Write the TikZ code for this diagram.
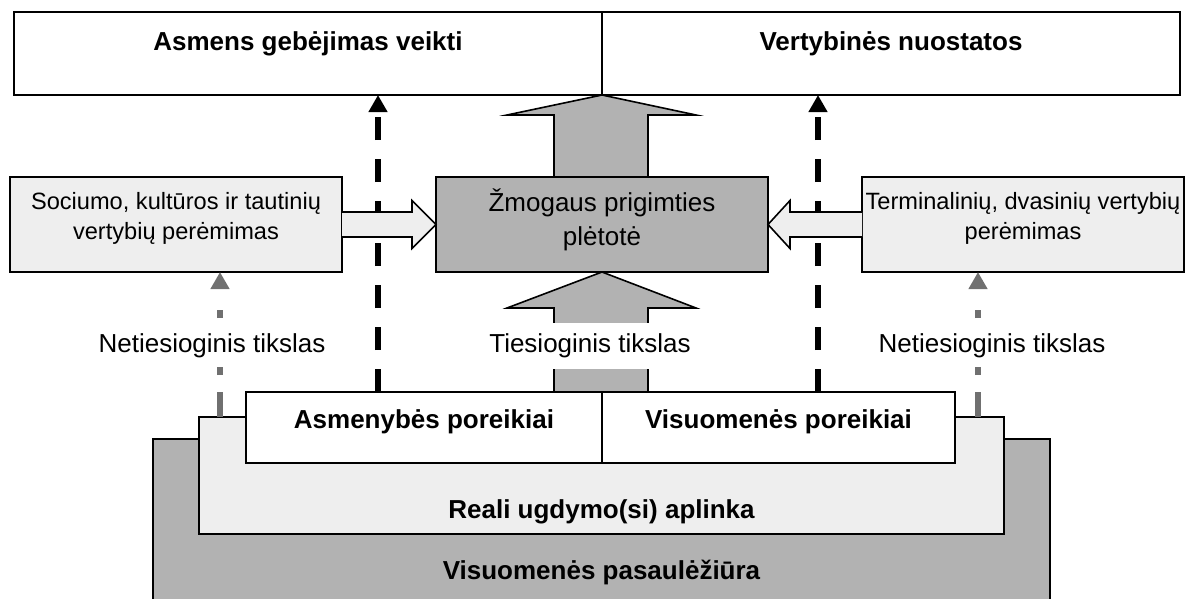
\documentclass[tikz,border=0pt]{standalone}
\usepackage{fontspec}
\setmainfont{Liberation Sans}
\usetikzlibrary{calc,arrows.meta,backgrounds}
\definecolor{midgray}{HTML}{B2B2B2}
\definecolor{lightfill}{HTML}{EEEEEE}
\definecolor{linegray}{HTML}{707070}
\begin{document}
\begin{tikzpicture}[x=1pt,y=-1pt,
  frame/.style={draw=black,line width=1.6pt,inner sep=0pt,outer sep=0pt,anchor=north west},
  txt/.style={font=\fontsize{26}{34}\selectfont,align=center,inner sep=0pt},
  btxt/.style={font=\fontsize{26}{32}\selectfont\bfseries,inner sep=0pt,anchor=base},
  stxt/.style={font=\fontsize{23.6}{29.5}\selectfont,align=center,inner sep=0pt},
  lbl/.style={font=\fontsize{26}{32}\selectfont,fill=white,inner xsep=3pt,inner ysep=6pt},
  dasharrow/.style={line width=6pt,dash pattern=on 23pt off 19pt,-{Triangle[length=17pt,width=18pt]}},
  grayarrow/.style={draw=linegray,line width=5.5pt,
    dash pattern=on 25pt off 17pt on 8pt off 17pt on 15pt off 17pt on 8pt off 40pt,
    -{Triangle[length=17pt,width=18pt]}},
  bigarrow/.style={fill=midgray,draw=black,line width=1.6pt,line join=miter},
  hollow/.style={fill=lightfill,draw=black,line width=1.6pt,line join=miter}]
\useasboundingbox (0,0) rectangle (1186,598);
\clip (0,0) rectangle (1186,598);

% bottom layers
\node[frame,fill=midgray,minimum width=897pt,minimum height=220pt] (wv) at (153,439) {};
\node[frame,fill=lightfill,minimum width=805pt,minimum height=117pt] (env) at (199,417) {};
\node[frame,fill=white,minimum width=356pt,minimum height=71pt] (np) at (246,392) {};
\node[frame,fill=white,minimum width=353pt,minimum height=71pt] (sn) at (602,392) {};

% top boxes
\node[frame,fill=white,minimum width=588pt,minimum height=83pt] (tl) at (14,12) {};
\node[frame,fill=white,minimum width=578pt,minimum height=83pt] (tr) at (602,12) {};

% middle row
\node[frame,fill=lightfill,minimum width=332pt,minimum height=95pt] (lbox) at (10,177) {};
\node[frame,fill=midgray,minimum width=332pt,minimum height=95pt] (ctr) at (436,177) {};
\node[frame,fill=lightfill,minimum width=322pt,minimum height=95pt] (rbox) at (862,177) {};

\begin{scope}[on background layer]
% big arrows
\draw[bigarrow] ($(ctr.north)+(-48,0)$) -- ($(ctr.north)+(-48,-62)$) -- ($(ctr.north)+(-95,-62)$)
  -- (tl.south east) -- ($(ctr.north)+(94,-62)$) -- ($(ctr.north)+(46,-62)$) -- ($(ctr.north)+(46,0)$);
\draw[bigarrow] ($(np.north east)+(-48,0)$) -- ($(ctr.south)+(-48,36)$) -- ($(ctr.south)+(-95,36)$)
  -- (ctr.south) -- ($(ctr.south)+(94,36)$) -- ($(ctr.south)+(46,36)$) -- ($(np.north east)+(46,0)$);
\end{scope}

% texts
\node[btxt] (t1) at ($(tl.north)+(0,38)$) {Asmens gebėjimas veikti};
\node[btxt] (t2) at ($(tr.north)+(0,38)$) {Vertybinės nuostatos};
\node[txt] (t3) at ($(ctr.center)+(0,-4.5)$) {Žmogaus prigimties\\plėtotė};
\node[stxt] (t4) at ($(lbox.center)+(0,-6)$) {Sociumo, kultūros ir tautinių\\vertybių perėmimas};
\node[stxt] (t5) at ($(rbox.center)+(0,-6)$) {Terminalinių, dvasinių vertybių\\perėmimas};
\node[btxt] (t6) at ($(np.north)+(0,36)$) {Asmenybės poreikiai};
\node[btxt] (t7) at ($(sn.north)+(0,36)$) {Visuomenės poreikiai};
\node[btxt] (t8) at ($(env.north)+(0,101)$) {Reali ugdymo(si) aplinka};
\node[btxt] (t9) at ($(wv.north)+(0,140)$) {Visuomenės pasaulėžiūra};

% black dashed arrows
\coordinate (d1) at ($(np.north west)+(132,0)$);
\coordinate (d2) at ($(sn.north east)+(-137,0)$);
\draw[dasharrow] (d1) -- (d1 |- tl.south);
\draw[dasharrow] (d2) -- (d2 |- tr.south);

% hollow arrows (drawn over the dashed lines)
\draw[hollow] ($(lbox.east)+(0,-12.5)$) -- ($(ctr.west)+(-24,-12.5)$) -- ($(ctr.west)+(-24,-24)$)
  -- (ctr.west) -- ($(ctr.west)+(-24,24)$) -- ($(ctr.west)+(-24,12.5)$) -- ($(lbox.east)+(0,12.5)$);
\draw[hollow] ($(rbox.west)+(0,-12.5)$) -- ($(ctr.east)+(22,-12.5)$) -- ($(ctr.east)+(22,-24)$)
  -- (ctr.east) -- ($(ctr.east)+(22,24)$) -- ($(ctr.east)+(22,12.5)$) -- ($(rbox.west)+(0,12.5)$);

% gray dash-dot arrows
\coordinate (g1) at ($(env.north west)+(21,0)$);
\coordinate (g2) at ($(env.north east)+(-26,0)$);
\draw[grayarrow] (g1) -- (g1 |- lbox.south);
\draw[grayarrow] (g2) -- (g2 |- rbox.south);

% labels
\node[lbl] (l1) at (212,346) {Netiesioginis tikslas};
\node[lbl] (l2) at (992,346) {Netiesioginis tikslas};
\node[lbl,inner ysep=11pt] (l3) at (590,346) {Tiesioginis tikslas};
\end{tikzpicture}
\end{document}
